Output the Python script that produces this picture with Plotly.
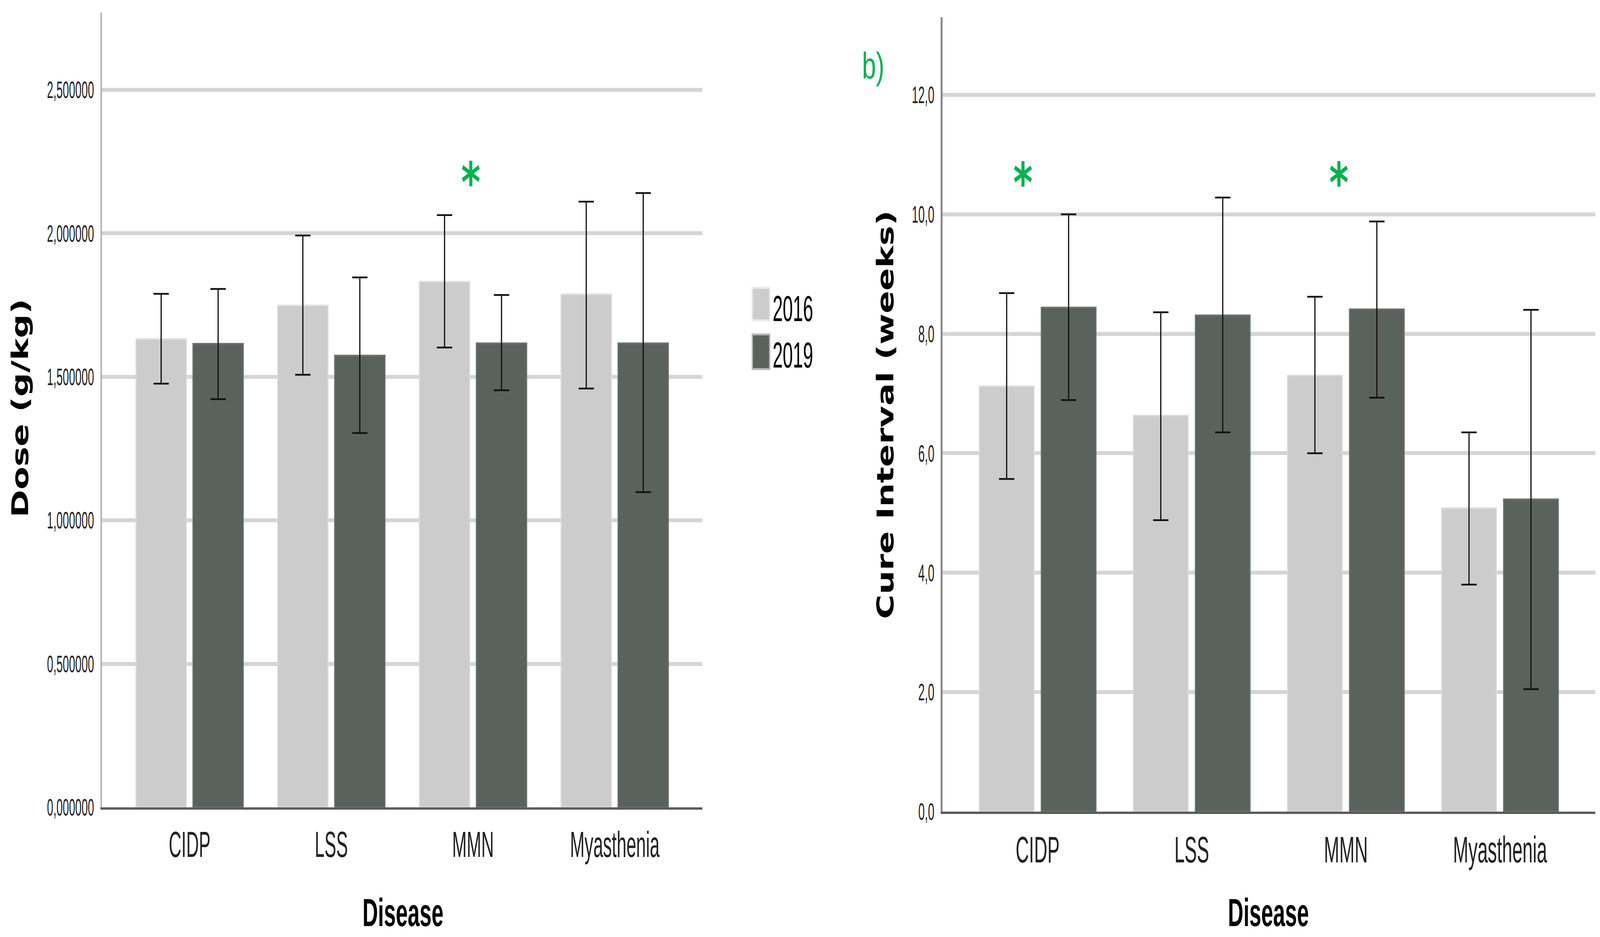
import json
import plotly.graph_objects as go

# ---------------- data ----------------
categories = ["CIDP", "LSS", "MMN", "Myasthenia"]
years = ["2016", "2019"]

dose_2016 = [1.631, 1.748, 1.831, 1.787]
dose_2016_upper = [1.789, 1.992, 2.063, 2.110]
dose_2016_lower = [1.476, 1.507, 1.602, 1.459]
dose_2019 = [1.615, 1.574, 1.617, 1.617]
dose_2019_upper = [1.806, 1.846, 1.785, 2.140]
dose_2019_lower = [1.422, 1.304, 1.453, 1.098]

cure_2016 = [7.12, 6.63, 7.30, 5.08]
cure_2016_upper = [8.68, 8.36, 8.62, 6.35]
cure_2016_lower = [5.57, 4.88, 6.00, 3.80]
cure_2019 = [8.44, 8.31, 8.41, 5.23]
cure_2019_upper = [10.00, 10.28, 9.88, 8.40]
cure_2019_lower = [6.89, 6.35, 6.93, 2.05]

dose_ticks = [0.0, 0.5, 1.0, 1.5, 2.0, 2.5]
cure_ticks = [0.0, 2.0, 4.0, 6.0, 8.0, 10.0, 12.0]

sig_dose = ["MMN"]
sig_cure = ["CIDP", "MMN"]

# ---------------- style ----------------
W, H = 6051, 2399
LIGHT = "#cccccc"
DARK = "#5a625d"
LIGHT_EDGE = "#dcdcdc"
DARK_EDGE = "#6b736e"
GREEN = "#00b050"
SANS = "Liberation Sans, Arial, sans-serif"
WIDE_BOLD = "DejaVu Sans, Verdana, sans-serif"

BAR_W = 0.355
GAP = 0.047


def px(x):
    return x / W


def py(y):
    return 1 - y / H


def bars(vals, upper, lower, color, edge, offset, xa, ya, name):
    return go.Bar(
        x=categories, y=vals, name=name,
        width=BAR_W, offset=offset,
        marker=dict(color=color, line=dict(color=edge, width=4)),
        error_y=dict(type="data", symmetric=False,
                     array=[u - v for u, v in zip(upper, vals)],
                     arrayminus=[v - l for v, l in zip(vals, lower)],
                     color="#111111", thickness=4.5, width=29),
        xaxis=xa, yaxis=ya, showlegend=False,
    )


fig = go.Figure()
fig.add_trace(bars(dose_2016, dose_2016_upper, dose_2016_lower, LIGHT, LIGHT_EDGE,
                   -(BAR_W + GAP / 2), "x", "y", years[0]))
fig.add_trace(bars(dose_2019, dose_2019_upper, dose_2019_lower, DARK, DARK_EDGE,
                   GAP / 2, "x", "y", years[1]))
fig.add_trace(bars(cure_2016, cure_2016_upper, cure_2016_lower, LIGHT, LIGHT_EDGE,
                   -(BAR_W + GAP / 2), "x2", "y2", years[0]))
fig.add_trace(bars(cure_2019, cure_2019_upper, cure_2019_lower, DARK, DARK_EDGE,
                   GAP / 2, "x2", "y2", years[1]))

xcommon = dict(type="category", categoryorder="array", categoryarray=categories,
               range=[-0.618, 3.618], showgrid=False, zeroline=False,
               showline=True, linecolor="#5c5c5c", linewidth=6,
               ticks="", ticklabelstandoff=11, automargin=False, fixedrange=True)
ycommon = dict(showgrid=True, gridcolor="#d5d5d5", gridwidth=10, zeroline=False,
               showline=True, linewidth=6, ticks="", ticklabelstandoff=12,
               automargin=False, fixedrange=True,
               tickfont=dict(family=SANS, size=61, color="#222222"))

fig.update_layout(
    width=W, height=H, autosize=False,
    margin=dict(l=0, r=0, t=0, b=0, pad=0),
    paper_bgcolor="white", plot_bgcolor="white",
    template="none", barmode="overlay", separators=",.",
    showlegend=False,
    xaxis=dict(domain=[px(386), px(2656)], anchor="y",
               tickfont=dict(family=SANS, size=92, color="#222222"), **xcommon),
    yaxis=dict(domain=[py(2067), py(32)], anchor="x", range=[0, 2.769],
               tickvals=dose_ticks, tickformat=".6f", linecolor="#b3b3b3", **ycommon),
    xaxis2=dict(domain=[px(3564), px(6033)], anchor="y2",
                tickfont=dict(family=SANS, size=94, color="#222222"), **xcommon),
    yaxis2=dict(domain=[py(2078), py(44)], anchor="x2", range=[0, 13.3],
                tickvals=cure_ticks, tickformat=".1f", linecolor="#8a8a8a", **ycommon),
)

ann = []
squeeze = []  # (annotation index, horizontal factor, origin)

ann.append(dict(text="<b>Dose (g/kg)</b>", x=px(77), y=py(1045), xref="paper", yref="paper",
                textangle=-90, showarrow=False, xanchor="center", yanchor="middle",
                font=dict(family=WIDE_BOLD, size=86, color="black")))
ann.append(dict(text="<b>Cure Interval (weeks)</b>", x=px(3348), y=py(1062), xref="paper",
                yref="paper", textangle=-90, showarrow=False, xanchor="center",
                yanchor="middle", font=dict(family=WIDE_BOLD, size=86, color="black")))
for cx in (1524, 4797):
    squeeze.append((len(ann), 0.81, "center"))
    ann.append(dict(text="<b>Disease</b>", x=px(cx), y=py(2336), xref="paper", yref="paper",
                    showarrow=False, xanchor="center", yanchor="middle",
                    font=dict(family=SANS, size=100, color="black")))
ann.append(dict(text="b)", x=px(3258), y=py(168), xref="paper", yref="paper",
                showarrow=False, xanchor="left", yanchor="middle",
                font=dict(family=SANS, size=95, color=GREEN)))
for c in sig_dose:
    ann.append(dict(text="<b>*</b>", x=categories.index(c) - 0.015, y=2.207, xref="x", yref="y",
                    showarrow=False, xanchor="center", yanchor="middle", yshift=-22,
                    font=dict(family="DejaVu Sans", size=140, color=GREEN)))
shift_cure = {"CIDP": -0.096, "MMN": -0.046}
for c in sig_cure:
    ann.append(dict(text="<b>*</b>", x=categories.index(c) + shift_cure[c], y=10.67,
                    xref="x2", yref="y2", showarrow=False, xanchor="center",
                    yanchor="middle", yshift=-22,
                    font=dict(family="DejaVu Sans", size=140, color=GREEN)))

legend_rows = [(years[0], LIGHT, "#e9e9e9", 734, 823, 790),
               (years[1], DARK, "#b9bdba", 853, 948, 909)]
shapes = []
for label, fill, edge, y0, y1, ty in legend_rows:
    shapes.append(dict(type="rect", xref="paper", yref="paper",
                       x0=px(2845), x1=px(2911), y0=py(y1 - 3), y1=py(y0 + 3),
                       fillcolor=fill, line=dict(color=edge, width=5)))
    squeeze.append((len(ann), 0.74, "left center"))
    ann.append(dict(text=label, x=px(2920), y=py(ty), xref="paper", yref="paper",
                    showarrow=False, xanchor="left", yanchor="middle",
                    font=dict(family=SANS, size=93, color="black")))

fig.update_layout(annotations=ann, shapes=shapes)

post = """
var gd = document.getElementById('{plot_id}');
document.documentElement.style.overflow = 'hidden';
document.body.style.margin = '0';
document.body.style.overflow = 'hidden';
var W = %d, H = %d;
var kx = window.innerWidth / W, ky = window.innerHeight / H;
gd.style.transformOrigin = '0 0';
gd.style.transform = 'scale(' + kx + ',' + ky + ')';
function sq(sel, k, origin) {
  gd.querySelectorAll(sel).forEach(function(el) {
    el.style.transformBox = 'fill-box';
    el.style.transformOrigin = origin;
    el.style.transform = 'scaleX(' + k + ')';
  });
}
sq('g.ytick', 0.70, 'right center');
sq('g.y2tick', 0.72, 'right center');
sq('g.xtick', 0.72, 'center');
sq('g.x2tick', 0.74, 'center');
var lst = %s;
lst.forEach(function(it) {
  sq('g.annotation[data-index="' + it[0] + '"] text.annotation-text', it[1], it[2]);
});
""" % (W, H, json.dumps(squeeze))

fig.write_html("out.html", post_script=post, config={"displayModeBar": False})
